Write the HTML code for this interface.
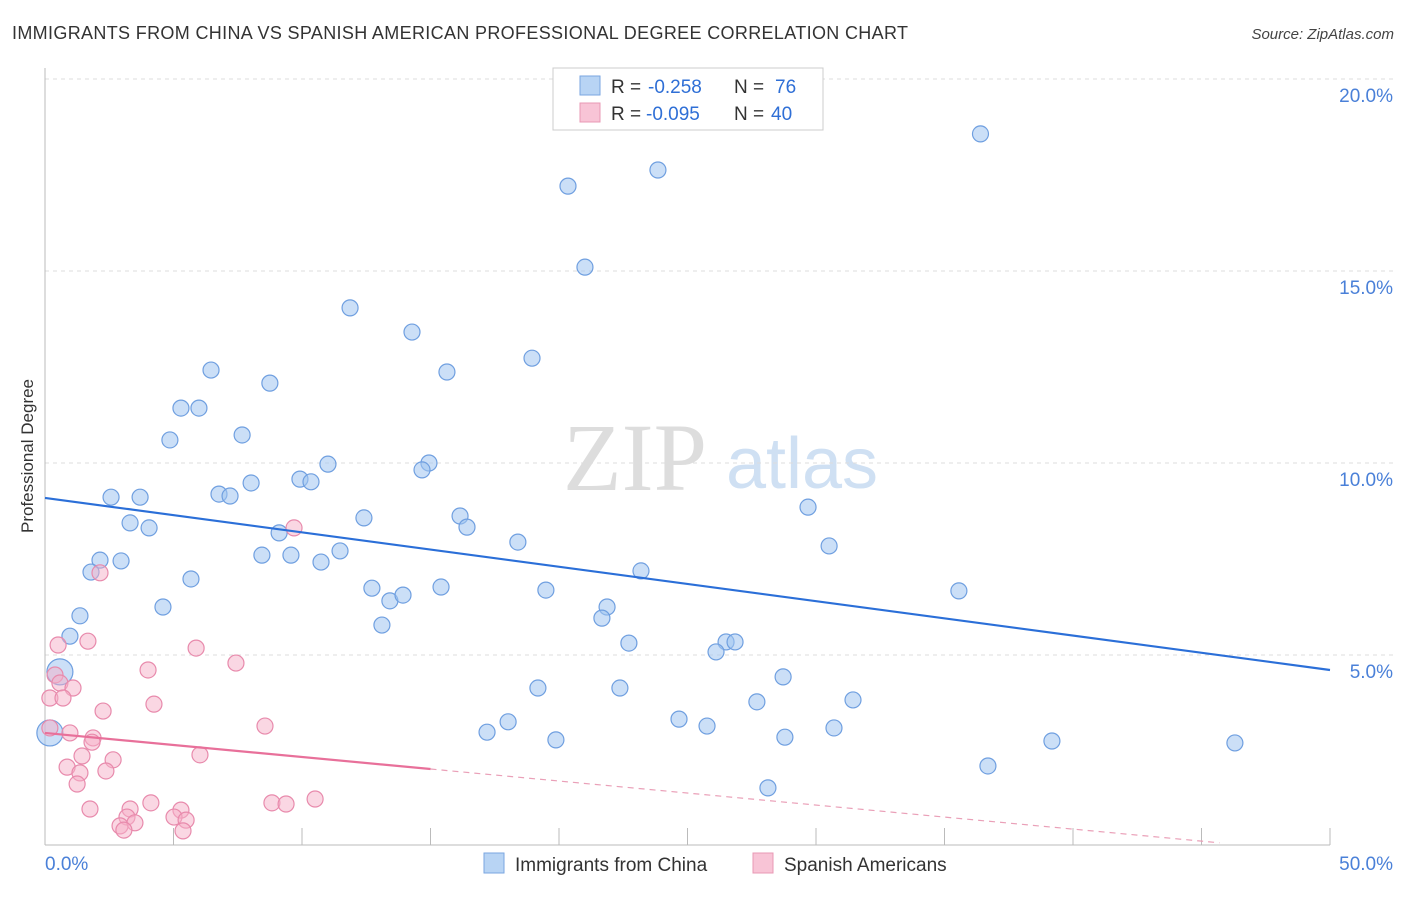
<!DOCTYPE html>
<html><head><meta charset="utf-8"><style>
body{margin:0;background:#fff;width:1406px;height:892px;overflow:hidden;font-family:"Liberation Sans",sans-serif}
</style></head><body>
<svg id="chart" width="1406" height="892" xmlns="http://www.w3.org/2000/svg" font-family="Liberation Sans, sans-serif">
<text x="12" y="39" font-size="18" fill="#333" textLength="896" lengthAdjust="spacing">IMMIGRANTS FROM CHINA VS SPANISH AMERICAN PROFESSIONAL DEGREE CORRELATION CHART</text>
<text x="1394" y="39" font-size="15" fill="#444" text-anchor="end" font-style="italic">Source: ZipAtlas.com</text>
<text transform="translate(33,456) rotate(-90)" font-size="17" fill="#333" text-anchor="middle">Professional Degree</text>
<g>
<text x="635" y="490" font-size="96" fill="#ddd" font-family="Liberation Serif, serif" text-anchor="middle">ZIP</text>
<text x="802" y="488" font-size="72" fill="#cfe0f3" text-anchor="middle">atlas</text>
</g>
<g id="grid"></g><g id="marks"></g>
<g>
<rect x="553" y="68" width="270" height="62" fill="#fff" stroke="#ccc"/>
<rect x="580" y="76" width="20" height="19" fill="#b8d4f4" stroke="#7aa6e0"/>
<rect x="580" y="103" width="20" height="19" fill="#f8c4d6" stroke="#e898b4"/>
<text x="611" y="93" font-size="19" fill="#333">R =</text>
<text x="648" y="93" font-size="19" fill="#2f6fd6">-0.258</text>
<text x="734" y="93" font-size="19" fill="#333">N =</text>
<text x="775" y="93" font-size="19" fill="#2f6fd6">76</text>
<text x="611" y="120" font-size="19" fill="#333">R =</text>
<text x="646" y="120" font-size="19" fill="#2f6fd6">-0.095</text>
<text x="734" y="120" font-size="19" fill="#333">N =</text>
<text x="771" y="120" font-size="19" fill="#2f6fd6">40</text>
</g>
<g>
<rect x="484" y="853" width="20" height="20" fill="#b8d4f4" stroke="#7aa6e0"/>
<text x="515" y="871" font-size="19" fill="#333">Immigrants from China</text>
<rect x="753" y="853" width="20" height="20" fill="#f8c4d6" stroke="#e898b4"/>
<text x="784" y="871" font-size="19" fill="#333">Spanish Americans</text>
</g>
</svg>
<script>
const xTicks=[0,5,10,15,20,25,30,35,40,45,50];
const yTicks=[5,10,15,20];
const chinaX=[36.4,23.85,20.35,21.01,11.87,14.28,18.95,15.64,6.46,8.75,5.29,5.99,4.86,7.67,9.92,10.35,11.01,14.94,14.67,8.02,6.77,7.20,2.57,3.70,3.31,4.05,12.41,16.15,16.42,18.40,29.69,30.51,9.11,8.44,9.57,10.74,11.48,2.14,2.96,1.79,5.68,23.19,12.72,15.41,19.49,35.56,13.42,13.93,13.11,21.87,21.67,4.59,1.36,0.97,22.72,26.5,26.85,26.11,0.58,28.72,19.18,22.37,27.7,31.44,17.2,18.02,19.88,24.67,25.76,28.79,30.7,39.18,46.3,36.69,28.13,0.19];
const chinaY=[18.57,17.63,17.21,15.10,14.04,13.41,12.73,12.37,12.42,12.08,11.43,11.43,10.60,10.73,9.58,9.51,9.97,10.0,9.82,9.48,9.19,9.14,9.11,9.11,8.44,8.31,8.57,8.62,8.33,7.94,8.85,7.84,8.18,7.60,7.60,7.42,7.71,7.47,7.45,7.16,6.98,7.19,6.74,6.77,6.69,6.67,6.41,6.56,5.78,6.25,5.96,6.25,6.02,5.49,5.31,5.34,5.34,5.08,4.56,4.43,4.14,4.14,3.78,3.83,2.99,3.26,2.79,3.33,3.15,2.86,3.10,2.76,2.71,2.11,1.54,2.97];
const spanX=[9.69,2.14,0.51,1.67,5.88,7.43,4.01,0.39,0.58,1.09,0.19,0.70,4.24,2.26,8.56,0.97,1.87,1.83,2.65,1.44,6.03,0.86,1.36,2.37,1.25,4.12,3.31,5.29,1.75,8.83,9.38,10.51,3.19,5.02,2.92,3.5,5.49,3.07,5.37,0.19];
const spanY=[8.31,7.14,5.26,5.36,5.18,4.79,4.61,4.48,4.27,4.14,3.88,3.88,3.72,3.54,3.15,2.97,2.84,2.73,2.27,2.37,2.40,2.08,1.93,1.98,1.64,1.15,0.99,0.96,0.99,1.15,1.12,1.25,0.78,0.78,0.55,0.63,0.70,0.44,0.42,3.10];
const chinaTrend=[9.09,4.61];
const spanTrend=[2.97,-0.16];
const spanSolidEnd=15;
const X=v=>45+v*25.7, Y=v=>847-v*38.4;
const NS='http://www.w3.org/2000/svg';
function mk(p,tag,a){const e=document.createElementNS(NS,tag);for(const k in a)e.setAttribute(k,a[k]);p.appendChild(e);return e;}
const g=document.getElementById('grid'), m=document.getElementById('marks');
yTicks.forEach(t=>{
 const l=mk(g,'line',{x1:45,x2:1395,y1:Y(t),y2:Y(t),stroke:'#ddd','stroke-dasharray':'4,4'});
 
 
 const tx=mk(g,'text',{x:1393,y:Y(t)+23,'font-size':19,fill:'#4a80d8','text-anchor':'end'});tx.textContent=t.toFixed(1)+'%';
 
 
});
const ax=mk(g,'line',{x1:45,x2:45,y1:68,y2:845,stroke:'#bbb'});


const bx=mk(g,'line',{x1:45,x2:1330,y1:845,y2:845,stroke:'#bbb'});


xTicks.forEach(t=>{
 const l=mk(g,'line',{x1:X(t),x2:X(t),y1:828,y2:845,stroke:'#bbb'});
 
 
});
[[0,'start',45],[50,'end',1393]].forEach(([t,a,px])=>{
 const tx=mk(g,'text',{x:px,y:870,'font-size':19,fill:'#4a80d8','text-anchor':a});tx.textContent=t.toFixed(1)+'%';
 
 
});
chinaX.forEach((x,i)=>{
 const big=x<1&&chinaY[i]<5;
 const c=mk(m,'circle',{cx:X(x),cy:Y(chinaY[i]),r:big?13:8,fill:'rgba(160,196,240,0.55)',stroke:'#6f9fe0','stroke-width':1.2});
 
 
});
spanX.forEach((x,i)=>{
 const c=mk(m,'circle',{cx:X(x),cy:Y(spanY[i]),r:8,fill:'rgba(246,176,200,0.5)',stroke:'#e88aac','stroke-width':1.2});
 
 
});
const bl=mk(m,'line',{x1:X(0),y1:Y(chinaTrend[0]),x2:X(50),y2:Y(chinaTrend[1]),stroke:'#2b6fd8','stroke-width':2.2});


const sy=x=>spanTrend[0]+(spanTrend[1]-spanTrend[0])*x/50;
const pl=mk(m,'line',{x1:X(0),y1:Y(sy(0)),x2:X(spanSolidEnd),y2:Y(sy(spanSolidEnd)),stroke:'#e8709a','stroke-width':2.2});


const pd=mk(m,'line',{x1:X(spanSolidEnd),y1:Y(sy(spanSolidEnd)),x2:X(45.7),y2:Y(sy(45.7)),stroke:'#eaa0b8','stroke-width':1.2,'stroke-dasharray':'6,5'});


</script>
</body></html>
